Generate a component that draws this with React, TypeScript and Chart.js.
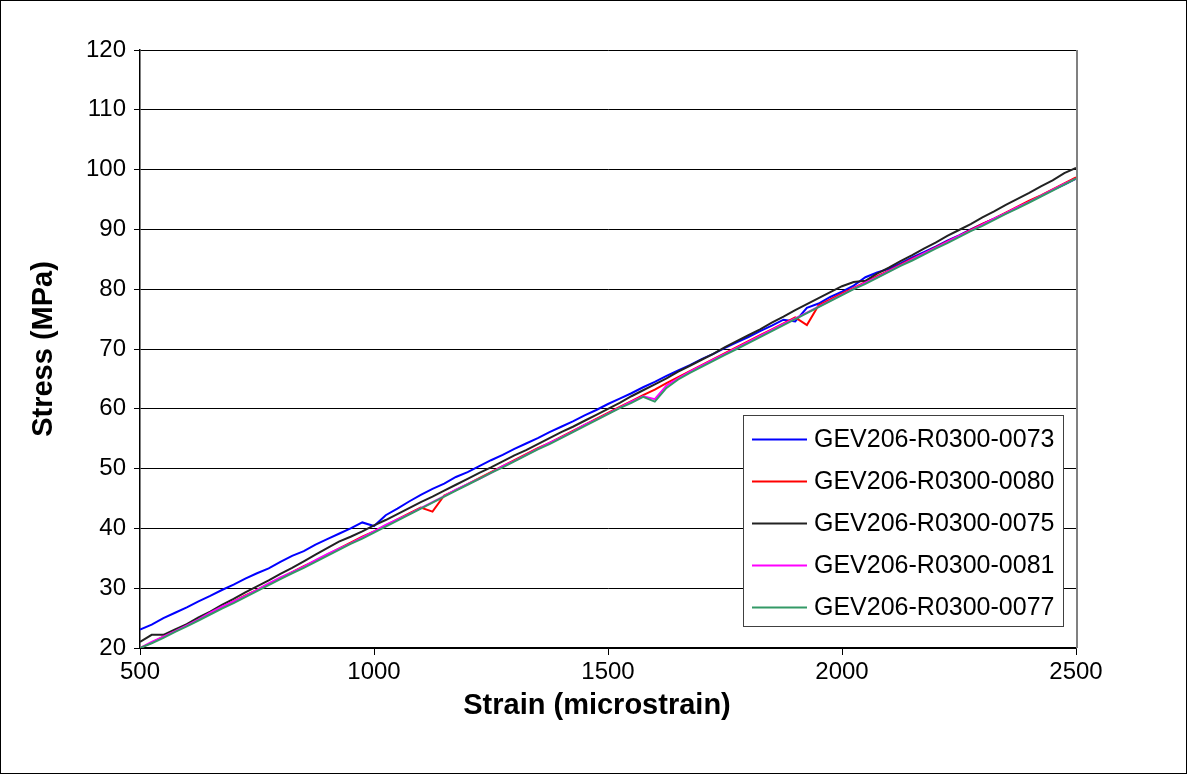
import React, { useEffect, useRef } from "react";
import { Chart, registerables } from "chart.js";

Chart.register(...registerables);

const strain = [
  500, 525, 550, 575, 600, 625, 650, 675, 700, 725,
  750, 775, 800, 825, 850, 875, 900, 925, 950, 975,
  1000, 1025, 1050, 1075, 1100, 1125, 1150, 1175, 1200, 1225,
  1250, 1275, 1300, 1325, 1350, 1375, 1400, 1425, 1450, 1475,
  1500, 1525, 1550, 1575, 1600, 1625, 1650, 1675, 1700, 1725,
  1750, 1775, 1800, 1825, 1850, 1875, 1900, 1925, 1950, 1975,
  2000, 2025, 2050, 2075, 2100, 2125, 2150, 2175, 2200, 2225,
  2250, 2275, 2300, 2325, 2350, 2375, 2400, 2425, 2450, 2475,
  2500,
];

const s0073 = [
  23.1, 23.9, 25.0, 25.9, 26.8, 27.8, 28.7, 29.7, 30.6, 31.6,
  32.5, 33.3, 34.4, 35.4, 36.2, 37.3, 38.2, 39.1, 40.0, 41.0,
  40.4, 42.2, 43.3, 44.5, 45.6, 46.6, 47.5, 48.6, 49.4, 50.4,
  51.4, 52.3, 53.3, 54.2, 55.1, 56.1, 57.0, 57.9, 58.9, 59.8,
  60.8, 61.7, 62.6, 63.6, 64.5, 65.5, 66.4, 67.3, 68.3, 69.2,
  70.2, 71.1, 72.0, 73.0, 73.9, 74.9, 74.6, 76.9, 77.6, 78.7,
  79.6, 80.6, 82.0, 82.8, 83.4, 84.3, 85.3, 86.2, 87.1, 88.1,
  89.0, 90.0, 90.9, 91.8, 92.7, 93.7, 94.7, 95.6, 96.6, 97.5,
  98.5,
];

const s0080 = [
  20.0, 20.9, 21.9, 22.9, 23.9, 24.9, 25.8, 26.8, 27.8, 28.8,
  29.7, 30.7, 31.7, 32.7, 33.7, 34.6, 35.6, 36.6, 37.6, 38.6,
  39.5, 40.5, 41.5, 42.5, 43.5, 42.8, 45.5, 46.4, 47.4, 48.4,
  49.4, 50.4, 51.4, 52.4, 53.4, 54.3, 55.3, 56.3, 57.3, 58.3,
  59.3, 60.3, 61.3, 62.3, 63.2, 64.3, 65.3, 66.3, 67.3, 68.3,
  69.3, 70.3, 71.3, 72.3, 73.3, 74.3, 75.3, 74.0, 77.3, 78.3,
  79.3, 80.2, 81.2, 82.2, 83.1, 84.1, 85.1, 86.0, 87.0, 88.0,
  88.9, 89.9, 90.9, 91.8, 92.8, 93.8, 94.8, 95.7, 96.7, 97.7,
  98.7,
];

const s0075 = [
  21.0, 22.2, 22.2, 23.1, 24.0, 25.1, 26.1, 27.2, 28.2, 29.3,
  30.3, 31.3, 32.4, 33.4, 34.5, 35.6, 36.7, 37.8, 38.6, 39.5,
  40.5, 41.4, 42.4, 43.4, 44.4, 45.3, 46.3, 47.3, 48.3, 49.3,
  50.2, 51.2, 52.2, 53.1, 54.1, 55.1, 56.1, 57.0, 58.0, 59.0,
  60.0, 61.0, 62.1, 63.1, 64.1, 65.1, 66.2, 67.2, 68.2, 69.2,
  70.3, 71.3, 72.3, 73.3, 74.4, 75.4, 76.5, 77.5, 78.5, 79.5,
  80.5, 81.2, 81.4, 82.6, 83.6, 84.7, 85.7, 86.8, 87.8, 88.9,
  89.9, 90.9, 92.0, 93.0, 94.1, 95.1, 96.1, 97.2, 98.2, 99.4,
  100.3,
];

const s0081 = [
  20.0, 21.0, 21.9, 22.8, 23.8, 24.8, 25.9, 26.9, 27.8, 28.7,
  29.7, 30.8, 31.8, 32.7, 33.6, 34.7, 35.7, 36.6, 37.5, 38.5,
  39.5, 40.6, 41.5, 42.4, 43.4, 44.4, 45.4, 46.5, 47.4, 48.3,
  49.3, 50.4, 51.3, 52.3, 53.3, 54.3, 55.2, 56.2, 57.3, 58.2,
  59.2, 60.2, 61.2, 62.1, 61.6, 63.9, 65.1, 66.2, 67.2, 68.2,
  69.2, 70.2, 71.2, 72.2, 73.2, 74.2, 75.1, 76.1, 77.1, 78.1,
  79.1, 80.1, 81.1, 82.0, 83.0, 84.0, 85.0, 86.0, 86.9, 87.9,
  88.9, 89.8, 90.8, 91.8, 92.7, 93.7, 94.6, 95.6, 96.6, 97.6,
  98.5,
];

const s0077 = [
  20.0, 20.8, 21.7, 22.7, 23.6, 24.6, 25.6, 26.6, 27.5, 28.5,
  29.5, 30.5, 31.5, 32.5, 33.4, 34.4, 35.4, 36.4, 37.4, 38.3,
  39.3, 40.3, 41.3, 42.3, 43.3, 44.3, 45.3, 46.3, 47.3, 48.3,
  49.3, 50.2, 51.2, 52.2, 53.2, 54.1, 55.1, 56.1, 57.1, 58.1,
  59.1, 60.1, 61.0, 62.0, 61.2, 63.5, 64.9, 66.0, 67.0, 68.0,
  69.0, 70.0, 71.0, 72.0, 73.0, 74.0, 75.0, 76.0, 77.0, 78.0,
  79.0, 80.0, 80.9, 81.9, 82.9, 83.9, 84.8, 85.8, 86.8, 87.7,
  88.7, 89.7, 90.6, 91.6, 92.6, 93.5, 94.5, 95.5, 96.5, 97.5,
  98.5,
];

const seriesNames = [
  "GEV206-R0300-0073",
  "GEV206-R0300-0080",
  "GEV206-R0300-0075",
  "GEV206-R0300-0081",
  "GEV206-R0300-0077",
];
const seriesValues = [s0073, s0080, s0075, s0081, s0077];
const seriesColors = ["#0000FF", "#FF0000", "#222222", "#FF00FF", "#339966"];

const xTitle = "Strain (microstrain)";
const yTitle = "Stress (MPa)";
const xMin = 500, xMax = 2500, xStep = 500;
const yMin = 20, yMax = 120, yStep = 10;

const FONT = "'Liberation Sans', Arial, sans-serif";

export default function App() {
  const ref = useRef<HTMLCanvasElement>(null);
  useEffect(() => {
    document.body.style.margin = "0";
    const canvas = ref.current!;
    const overlay = {
      id: "overlay",
      afterDraw(chart: any) {
        const ctx = chart.ctx as CanvasRenderingContext2D;
        const a = chart.chartArea;
        ctx.save();
        ctx.strokeStyle = "#808080";
        ctx.lineWidth = 2;
        ctx.beginPath();
        ctx.moveTo(a.right + 1, a.top);
        ctx.lineTo(a.right + 1, a.bottom);
        ctx.stroke();
        ctx.strokeStyle = "#000";
        ctx.lineWidth = 1;
        ctx.strokeRect(0.5, 0.5, chart.width - 1, chart.height - 1);
        ctx.fillStyle = "#000";
        ctx.font = `bold 29px ${FONT}`;
        ctx.textAlign = "center";
        ctx.textBaseline = "middle";
        ctx.fillText(xTitle, 597, 706);
        ctx.save();
        ctx.translate(44, 349);
        ctx.rotate(-Math.PI / 2);
        ctx.fillText(yTitle, 0, 0);
        ctx.restore();
        const bx = 743, by = 415, bw = 320, bh = 211;
        ctx.fillStyle = "#fff";
        ctx.fillRect(bx, by, bw, bh);
        ctx.strokeStyle = "#404040";
        ctx.lineWidth = 1;
        ctx.strokeRect(bx + 0.5, by + 0.5, bw, bh);
        ctx.font = `25px ${FONT}`;
        ctx.textAlign = "left";
        ctx.textBaseline = "middle";
        seriesNames.forEach((n, i) => {
          const yy = 439.5 + i * 42;
          ctx.strokeStyle = seriesColors[i];
          ctx.lineWidth = 2;
          ctx.beginPath();
          ctx.moveTo(752, yy);
          ctx.lineTo(807, yy);
          ctx.stroke();
          ctx.fillStyle = "#000";
          ctx.fillText(n, 814, yy + 1);
        });
        ctx.restore();
      },
    };
    const chart = new Chart(canvas, {
      type: "line",
      data: {
        datasets: seriesNames.map((n, i) => ({
          label: n,
          data: strain.map((s, j) => ({ x: s, y: seriesValues[i][j] })),
          borderColor: seriesColors[i],
          backgroundColor: seriesColors[i],
          borderWidth: 2,
          pointRadius: 0,
          tension: 0,
          fill: false,
          order: 4 - i,
        })),
      },
      options: {
        animation: false,
        responsive: false,
        maintainAspectRatio: false,
        layout: { padding: { left: 0, top: 50, right: 111, bottom: 0 } },
        plugins: { legend: { display: false }, tooltip: { enabled: false }, title: { display: false } },
        scales: {
          x: {
            type: "linear",
            min: xMin,
            max: xMax,
            ticks: {
              stepSize: xStep, color: "#000", font: { family: FONT, size: 24 }, padding: 3, maxRotation: 0,
              callback: (v: any) => String(v),
            },
            grid: { drawOnChartArea: false, drawTicks: true, tickLength: 7, color: "#000", lineWidth: 1 },
            border: { display: true, color: "#000", width: 1.5 },
            afterFit: (s: any) => { s.height = 126; },
          },
          y: {
            type: "linear",
            min: yMin,
            max: yMax,
            ticks: { stepSize: yStep, color: "#000", font: { family: FONT, size: 24 }, padding: 8, callback: (v: any) => String(v) },
            grid: { drawOnChartArea: true, drawTicks: true, tickLength: 6, color: "#000", lineWidth: 1 },
            border: { display: true, color: "#000", width: 1.5 },
            afterFit: (s: any) => { s.width = 140; },
          },
        },
      },
      plugins: [overlay],
    });
    return () => chart.destroy();
  }, []);
  return (
    <div style={{ width: 1187, height: 774 }}>
      <canvas ref={ref} width={1187} height={774} style={{ display: "block" }} />
    </div>
  );
}
